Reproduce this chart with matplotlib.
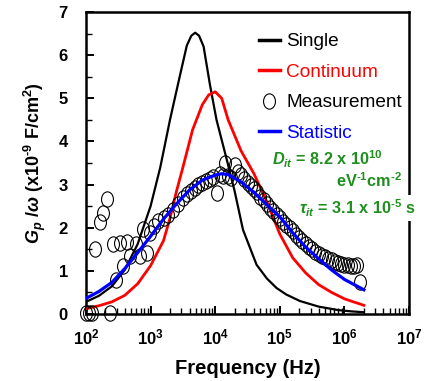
import numpy as np
import matplotlib
matplotlib.use("Agg")
import matplotlib.pyplot as plt
from matplotlib.lines import Line2D
from matplotlib.path import Path
from matplotlib.transforms import Affine2D
from matplotlib.ticker import MultipleLocator, NullFormatter

plt.rcParams['font.family'] = ['Liberation Sans', 'DejaVu Sans']
plt.rcParams['mathtext.fontset'] = 'custom'
plt.rcParams['mathtext.rm'] = 'Liberation Sans:bold'
plt.rcParams['mathtext.it'] = 'Liberation Sans:bold:italic'
plt.rcParams['mathtext.bf'] = 'Liberation Sans:bold'

# log10(frequency in Hz) and Gp/w (x1e-9 F/cm2)
single_logf = [2.0, 2.2, 2.4, 2.6, 2.8, 3.0, 3.15, 3.3, 3.45, 3.56, 3.63, 3.69,
               3.75, 3.82, 3.92, 4.02, 4.18, 4.3, 4.43, 4.64, 4.8, 4.95, 5.1,
               5.31, 5.6, 5.9, 6.1, 6.3]
single_val = [0.28, 0.42, 0.64, 1.02, 1.62, 2.5, 3.4, 4.5, 5.5, 6.22, 6.45, 6.52,
              6.45, 6.2, 5.3, 4.5, 3.57, 2.85, 1.95, 1.14, 0.82, 0.60, 0.45,
              0.30, 0.17, 0.09, 0.06, 0.04]

cont_logf = [2.0, 2.2, 2.4, 2.6, 2.8, 3.0, 3.2, 3.3, 3.4, 3.5, 3.65, 3.8, 3.9,
             4.0, 4.1, 4.2, 4.4, 4.6, 4.8, 5.0, 5.2, 5.4, 5.6, 5.8, 6.0, 6.3]
cont_val = [0.12, 0.19, 0.28, 0.43, 0.70, 1.12, 1.70, 2.22, 2.84, 3.40, 4.27,
            4.85, 5.08, 5.15, 5.0, 4.5, 3.78, 3.25, 2.6, 1.85, 1.3, 0.95, 0.68,
            0.50, 0.35, 0.20]

stat_logf = [2.0, 2.2, 2.4, 2.6, 2.8, 3.0, 3.2, 3.4, 3.6, 3.8, 4.0, 4.1, 4.2,
             4.4, 4.6, 4.8, 5.0, 5.2, 5.4, 5.6, 5.8, 6.0, 6.3]
stat_val = [0.36, 0.52, 0.73, 1.05, 1.42, 1.80, 2.20, 2.55, 2.87, 3.10, 3.22,
            3.25, 3.23, 3.06, 2.82, 2.53, 2.25, 1.88, 1.55, 1.28, 1.02, 0.80, 0.56]

meas_logf = [2.00, 2.05, 2.10, 2.37, 2.14, 2.22, 2.27, 2.32, 2.42, 2.53, 2.63,
             2.47, 2.58, 2.68, 2.78, 2.84, 2.94, 2.89, 2.99, 3.05, 3.12, 3.20,
             3.27, 3.35, 3.42, 3.50, 3.56, 3.62, 3.68, 3.74, 3.80, 3.86, 3.92,
             3.97, 4.02, 4.07, 4.12, 4.15, 4.20, 4.25, 4.30, 4.35, 4.40, 4.45,
             4.50, 4.55, 4.60, 4.65, 4.70, 4.75, 4.80, 4.85, 4.90, 4.95, 5.00,
             5.05, 5.10, 5.15, 5.20, 5.25, 5.30, 5.35, 5.40, 5.45, 5.50, 5.55,
             5.60, 5.65, 5.70, 5.75, 5.80, 5.85, 5.90, 5.95, 6.00, 6.05, 6.10,
             6.15, 6.20, 6.24]
meas_val = [0.02, 0.03, 0.02, 0.03, 1.50, 2.14, 2.35, 2.66, 1.62, 1.64, 1.67,
            0.79, 1.10, 1.35, 1.62, 1.35, 1.42, 1.96, 1.87, 2.05, 2.15, 2.22,
            2.30, 2.42, 2.55, 2.68, 2.78, 2.85, 2.92, 2.99, 3.04, 3.08, 3.14,
            3.18, 2.80, 3.24, 3.20, 3.50, 3.20, 3.15, 3.45, 3.30, 3.22, 3.12,
            3.04, 2.96, 2.90, 2.82, 2.72, 2.64, 2.55, 2.46, 2.38, 2.30, 2.22,
            2.14, 2.06, 1.99, 1.92, 1.84, 1.76, 1.69, 1.62, 1.56, 1.50, 1.44,
            1.39, 1.35, 1.31, 1.27, 1.24, 1.21, 1.18, 1.16, 1.14, 1.13, 1.12,
            1.12, 1.13, 0.75]

xtick_pos = [1e2, 1e3, 1e4, 1e5, 1e6, 1e7]
xtick_lab = [r'$\mathbf{10^{2}}$', r'$\mathbf{10^{3}}$', r'$\mathbf{10^{4}}$',
             r'$\mathbf{10^{5}}$', r'$\mathbf{10^{6}}$', r'$\mathbf{10^{7}}$']

green = '#1f8f1f'

# slightly tall open ellipse like the original markers
ell = Path.unit_circle().transformed(Affine2D().scale(0.78, 1.0))

fig = plt.figure(figsize=(4.32, 3.81), dpi=100)
ax = fig.add_axes([0.199, 0.176, 0.748, 0.7925])

ax.plot(10 ** np.array(single_logf), single_val, color='black', lw=1.6, zorder=3)
ax.plot(10 ** np.array(cont_logf), cont_val, color='#ff0000', lw=2.0, zorder=3)
ax.plot(10 ** np.array(meas_logf), meas_val, ls='none', marker=ell, ms=11,
        mfc='none', mec='black', mew=0.8, clip_on=False, zorder=4)
ax.plot(10 ** np.array(stat_logf), stat_val, color='#0000ff', lw=2.3, zorder=5)

ax.set_xscale('log')
ax.set_xlim(1e2, 1e7)
ax.set_ylim(0, 7)
ax.set_xticks(xtick_pos)
ax.set_xticklabels(xtick_lab)
ax.xaxis.set_minor_formatter(NullFormatter())
ax.yaxis.set_major_locator(MultipleLocator(1))
ax.yaxis.set_minor_locator(MultipleLocator(0.5))
ax.tick_params(axis='both', which='major', direction='in', length=6, width=1.4,
               labelsize=12)
ax.tick_params(axis='both', which='minor', direction='in', length=4, width=1.0)
ax.tick_params(axis='x', which='major', pad=10)
ax.tick_params(axis='y', which='major', pad=13)
for lab in ax.get_yticklabels():
    lab.set_fontweight('bold')
for sp in ax.spines.values():
    sp.set_linewidth(1.8)

ax.set_xlabel('Frequency (Hz)', fontsize=14.5, fontweight='bold', labelpad=8)
ax.set_ylabel(r'$G_p$ /$\omega$ (x10$^{\text{-}9}$ F/cm$^{2}$)', fontsize=13,
              fontweight='bold', labelpad=8)

handles = [Line2D([], [], color='black', lw=2.5),
           Line2D([], [], color='#ff0000', lw=2.5),
           Line2D([], [], ls='none', marker=ell, ms=11, mfc='none', mec='black', mew=0.8),
           Line2D([], [], color='#0000ff', lw=2.5)]
labels = ['Single', 'Continuum', 'Measurement', 'Statistic']
leg = ax.legend(handles, labels, loc='upper left', bbox_to_anchor=(0.535, 0.93),
                frameon=False, fontsize=13.7, handlelength=1.1, handletextpad=0.33,
                labelspacing=0.69, borderpad=0, borderaxespad=0)
for t, c in zip(leg.get_texts(), ['black', '#ff0000', 'black', '#0000ff']):
    t.set_color(c)

ax.text(0.92, 0.492, r'$D_{it}$ = 8.2 x 10$^{10}$', transform=ax.transAxes,
        ha='right', va='baseline', color=green, fontsize=11.7, fontweight='bold')
ax.text(0.978, 0.422, r'eV$^{\text{-}1}$cm$^{\text{-}2}$', transform=ax.transAxes,
        ha='right', va='baseline', color=green, fontsize=11.7, fontweight='bold')
ax.text(1.022, 0.331, r'$\tau_{it}$ = 3.1 x 10$^{\text{-}5}$ s', transform=ax.transAxes,
        ha='right', va='baseline', color=green, fontsize=11.7, fontweight='bold',
        bbox=dict(facecolor='white', edgecolor='none', pad=2), zorder=6)

fig.savefig('out.png', dpi=100)
